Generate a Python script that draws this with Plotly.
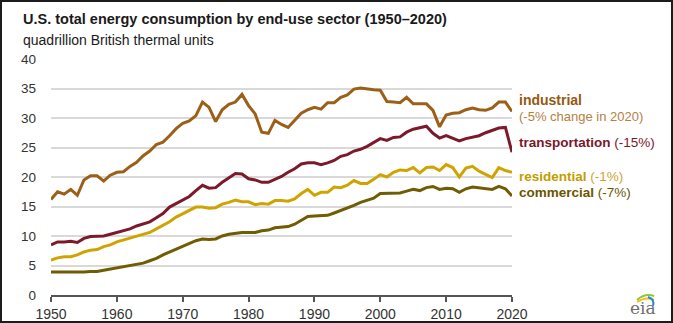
import plotly.graph_objects as go

# Annual end-use energy consumption, quadrillion Btu
years = list(range(1950, 2021))

industrial = [
    16.2, 17.5, 17.1, 17.9, 16.9, 19.5, 20.2, 20.2, 19.3, 20.3,
    20.8, 20.9, 21.8, 22.5, 23.6, 24.4, 25.5, 25.9, 27.0, 28.2,
    29.1, 29.5, 30.4, 32.7, 31.8, 29.4, 31.4, 32.3, 32.7, 34.0,
    32.1, 30.7, 27.6, 27.4, 29.6, 28.9, 28.4, 29.6, 30.8, 31.4,
    31.8, 31.5, 32.6, 32.6, 33.5, 33.9, 34.9, 35.1, 34.9, 34.8,
    34.7, 32.8, 32.7, 32.6, 33.5, 32.4, 32.4, 32.4, 31.3, 28.5,
    30.5, 30.8, 30.9, 31.4, 31.7, 31.4, 31.3, 31.7, 32.7, 32.7,
    31.1,
]
transportation = [
    8.5, 9.0, 9.0, 9.1, 8.9, 9.6, 9.9, 10.0, 10.0, 10.3,
    10.6, 10.8, 11.2, 11.7, 12.0, 12.4, 13.1, 13.8, 14.9, 15.5,
    16.1, 16.7, 17.7, 18.6, 18.1, 18.2, 19.1, 19.8, 20.6, 20.5,
    19.7, 19.5, 19.1, 19.1, 19.6, 20.1, 20.8, 21.4, 22.2, 22.4,
    22.4, 22.1, 22.4, 22.8, 23.5, 23.8, 24.4, 24.7, 25.2, 25.9,
    26.5, 26.2, 26.7, 26.8, 27.6, 28.1, 28.4, 28.6, 27.4, 26.6,
    27.0, 26.6, 26.1, 26.5, 26.7, 27.0, 27.5, 27.9, 28.3, 28.4,
    24.2,
]
residential = [
    5.9, 6.3, 6.5, 6.5, 6.8, 7.3, 7.6, 7.7, 8.2, 8.5,
    9.0, 9.3, 9.7, 9.9, 10.2, 10.6, 11.2, 11.8, 12.4, 13.2,
    13.8, 14.3, 14.9, 14.9, 14.7, 14.8, 15.4, 15.7, 16.1, 15.8,
    15.8, 15.3, 15.5, 15.4, 16.0, 16.0, 15.9, 16.3, 17.2, 17.9,
    16.9, 17.4, 17.4, 18.3, 18.2, 18.6, 19.4, 18.9, 18.9, 19.6,
    20.4, 20.0, 20.8, 21.2, 21.1, 21.6, 20.7, 21.6, 21.7, 21.1,
    22.1, 21.6, 20.0, 21.5, 21.8, 21.0, 20.4, 19.9, 21.6, 21.1,
    20.8,
]
commercial = [
    3.9, 3.9, 3.9, 3.8, 3.8, 3.9, 4.0, 4.0, 4.2, 4.4,
    4.6, 4.8, 5.0, 5.2, 5.4, 5.8, 6.2, 6.8, 7.3, 7.8,
    8.3, 8.7, 9.2, 9.5, 9.4, 9.5, 10.0, 10.3, 10.5, 10.6,
    10.6, 10.6, 10.9, 11.0, 11.4, 11.5, 11.6, 12.0, 12.6, 13.3,
    13.4, 13.5, 13.5, 13.9, 14.3, 14.7, 15.2, 15.7, 16.0, 16.4,
    17.2, 17.2, 17.3, 17.3, 17.6, 17.9, 17.7, 18.2, 18.4, 17.9,
    18.1, 18.0, 17.4, 18.0, 18.3, 18.2, 18.0, 17.9, 18.4, 18.0,
    16.8,
]

x_ticks = [1950, 1960, 1970, 1980, 1990, 2000, 2010, 2020]
y_ticks = [0, 5, 10, 15, 20, 25, 30, 35, 40]

# name, values, line colour, bold-label colour, note colour, note text
sectors = [
    ("industrial", industrial, "#9c5f18", "#96580f", "#b5803f", "(-5% change in 2020)"),
    ("transportation", transportation, "#7c1a2c", "#7a1729", "#7a1729", "(-15%)"),
    ("residential", residential, "#cfa400", "#c49c00", "#cda431", "(-1%)"),
    ("commercial", commercial, "#705c02", "#6a5600", "#6a5600", "(-7%)"),
]

W, H = 673, 323
L, R, T, B = 51, 161, 59, 28
PW, PH = W - L - R, H - T - B
FONT = "Liberation Sans, Arial, sans-serif"


def px(x):
    return (x - L) / PW


def py(y):
    return (H - B - y) / PH


fig = go.Figure()
for name, vals, color, _, _, _ in sectors:
    fig.add_trace(go.Scatter(
        x=years, y=vals, mode="lines", name=name,
        line=dict(color=color, width=3), hoverinfo="x+y",
    ))

annotations = [
    dict(text="<b>U.S. total energy consumption by end-use sector (1950\u20132020)</b>",
         x=px(21), y=py(19), xref="paper", yref="paper", xanchor="left", yanchor="middle",
         showarrow=False, font=dict(size=14.5, color="#1a1a1a", family=FONT)),
    dict(text="quadrillion British thermal units",
         x=px(21), y=py(40), xref="paper", yref="paper", xanchor="left", yanchor="middle",
         showarrow=False, font=dict(size=14, color="#1a1a1a", family=FONT)),
]

# sector labels at the right end of the lines
label_y = {"industrial": 100, "transportation": 142, "residential": 176, "commercial": 192}
for name, vals, color, bold_c, note_c, note in sectors:
    if name == "industrial":
        annotations.append(dict(
            text="<b>industrial</b>", x=px(517), y=py(label_y[name]), xref="paper", yref="paper",
            xanchor="left", yanchor="middle", showarrow=False,
            font=dict(size=14, color=bold_c, family=FONT)))
        annotations.append(dict(
            text=note, x=px(517), y=py(116.5), xref="paper", yref="paper",
            xanchor="left", yanchor="middle", showarrow=False,
            font=dict(size=13, color=note_c, family=FONT)))
    else:
        annotations.append(dict(
            text=f"<b>{name}</b> <span style='font-weight:normal;color:{note_c}'>{note}</span>",
            x=px(517), y=py(label_y[name]), xref="paper", yref="paper",
            xanchor="left", yanchor="middle", showarrow=False,
            font=dict(size=13.5, color=bold_c, family=FONT)))

# eia wordmark
annotations.append(dict(
    text="eia", x=px(643), y=py(308), xref="paper", yref="paper",
    xanchor="center", yanchor="middle", showarrow=False,
    font=dict(size=17, color="#6e6e6e", family="DejaVu Serif, Liberation Serif, serif")))

shapes = [
    # outer frame
    dict(type="rect", xref="paper", yref="paper",
         x0=px(1), x1=px(672), y0=py(1), y1=py(322),
         line=dict(color="#1c1c1c", width=2), fillcolor="rgba(0,0,0,0)", layer="above"),
]


def arc(x0, y0, cx, cy, x1, y1, color, w):
    return dict(type="path", xref="paper", yref="paper",
                path=f"M {px(x0)},{py(y0)} Q {px(cx)},{py(cy)} {px(x1)},{py(y1)}",
                line=dict(color=color, width=w))


shapes += [
    arc(637, 300, 645, 293, 654, 296, "#8cc63f", 2),
    arc(637, 302, 646, 296, 654, 300, "#f2c21b", 2),
    arc(648, 297, 655, 299, 653, 306, "#2b89c8", 2),
]

fig.update_layout(
    width=W, height=H,
    margin=dict(l=L, r=R, t=T, b=B, pad=0, autoexpand=False),
    paper_bgcolor="white", plot_bgcolor="white",
    showlegend=False,
    font=dict(family=FONT, color="#333333"),
    annotations=annotations,
    shapes=shapes,
    xaxis=dict(
        range=[1950, 2020], tickvals=x_ticks, ticktext=[str(v) for v in x_ticks],
        showgrid=False, zeroline=False, automargin=False,
        showline=True, linecolor="#555555", linewidth=1.5,
        ticks="outside", ticklen=5, tickwidth=1.5, tickcolor="#555555",
        tickfont=dict(size=14, color="#333333", family=FONT),
        fixedrange=True,
    ),
    yaxis=dict(
        range=[0, 40], tickvals=y_ticks, ticktext=[str(v) for v in y_ticks],
        showgrid=True, gridcolor="#d9d9d9", gridwidth=1.5,
        zeroline=False, showline=False, ticks="", automargin=False,
        ticklabelstandoff=14,
        tickfont=dict(size=13.5, color="#333333", family=FONT),
        fixedrange=True,
    ),
)

fig.write_html("out.html")
